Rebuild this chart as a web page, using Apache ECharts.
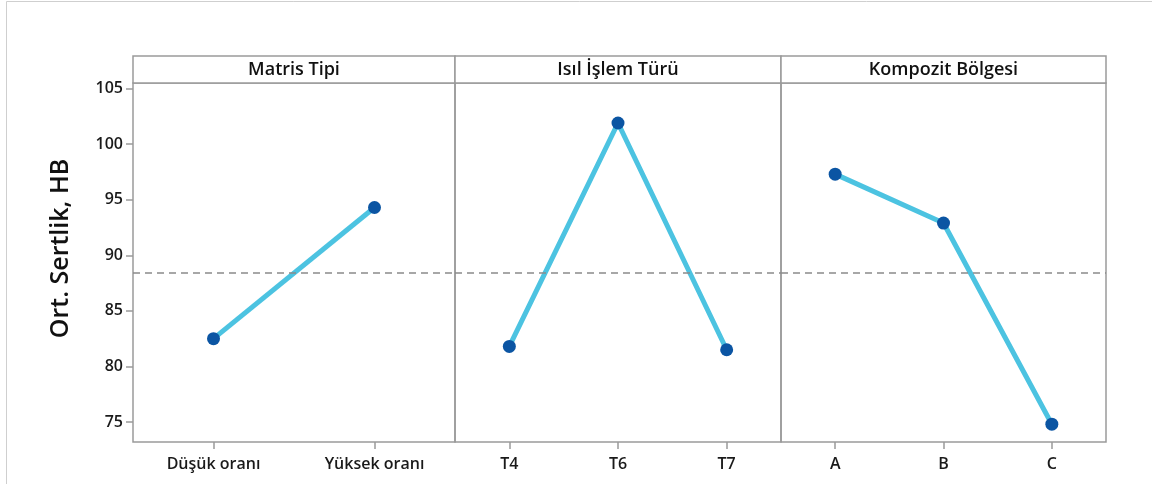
<!DOCTYPE html>
<html>
<head>
    <meta charset="utf-8">
    <title>Ana Etkiler</title>
    <style>
        html, body { margin: 0; padding: 0; background: #fff; }
        #main { width: 1152px; height: 484px; }
    </style>
</head>
<body>
<div id="main"></div>
<script src="https://cdn.jsdelivr.net/npm/echarts@6/dist/echarts.min.js"></script>
<script>
    // paneller ve kategoriler
    var panelTitles = ['Matris Tipi', 'Isıl İşlem Türü', 'Kompozit Bölgesi'];
    var matrisCats = ['Düşük oranı', 'Yüksek oranı'];
    var isilCats = ['T4', 'T6', 'T7'];
    var bolgeCats = ['A', 'B', 'C'];
    // ortalama sertlik degerleri (HB)
    var matrisVals = [82.5, 94.3];
    var isilVals = [81.8, 101.9, 81.5];
    var bolgeVals = [97.3, 92.9, 74.8];
    var grandMean = 88.4;
    var yTicks = [75, 80, 85, 90, 95, 100, 105];

    var font = '"Open Sans", "Noto Sans", sans-serif';
    var frameColor = '#9a9a9a';
    var cats = [matrisCats, isilCats, bolgeCats];
    var vals = [matrisVals, isilVals, bolgeVals];
    var lefts = [133, 455, 781];
    var widths = [322, 326, 325];

    var grids = [], xAxes = [], yAxes = [], series = [], graphics = [];

    // dis cerceve
    graphics.push({
        type: 'rect', shape: {x: 6.5, y: 1.5, width: 1200, height: 600},
        style: {fill: 'none', stroke: '#cfcfcf', lineWidth: 1}, silent: true
    });

    for (var i = 0; i < 3; i++) {
        grids.push({
            left: lefts[i], width: widths[i], top: 83, bottom: 42,
            show: true, borderColor: frameColor, borderWidth: 1.5, backgroundColor: 'transparent'
        });
        xAxes.push({
            type: 'category', gridIndex: i, data: cats[i], boundaryGap: true,
            axisLine: {show: false},
            axisTick: {show: true, alignWithLabel: true, length: 7, lineStyle: {color: frameColor, width: 1.5}},
            axisLabel: {fontFamily: font, fontSize: 16, fontWeight: 600, color: '#1a1a1a', margin: 14}
        });
        yAxes.push({
            type: 'value', gridIndex: i, min: 73.2, max: 105.5,
            splitLine: {show: false},
            axisLine: {show: false},
            axisTick: {show: i === 0, length: 7, customValues: yTicks, lineStyle: {color: frameColor, width: 1.5}},
            axisLabel: {show: i === 0, customValues: yTicks, fontFamily: font, fontSize: 16, fontWeight: 600,
                color: '#1a1a1a', margin: 10},
            name: i === 0 ? 'Ort. Sertlik, HB' : '',
            nameLocation: 'middle', nameGap: 60, nameRotate: 90,
            nameTextStyle: {fontFamily: font, fontSize: 25, color: '#111', fontWeight: 600, padding: [0, 0, 0, 28]}
        });
        series.push({
            type: 'line', xAxisIndex: i, yAxisIndex: i, data: vals[i],
            symbol: 'circle', symbolSize: 13,
            itemStyle: {color: '#0b55a3'},
            lineStyle: {color: '#4cc3e1', width: 5},
            markLine: {
                silent: true, symbol: 'none', label: {show: false},
                lineStyle: {color: '#8a8a8a', type: [7, 5], width: 1.5},
                data: [{yAxis: grandMean}]
            }
        });
        // panel basligi seridi
        graphics.push({
            type: 'rect', shape: {x: lefts[i], y: 56, width: widths[i], height: 27},
            style: {fill: '#fff', stroke: frameColor, lineWidth: 1.5}, silent: true
        });
        graphics.push({
            type: 'text', x: lefts[i] + widths[i] / 2, y: 70,
            style: {text: panelTitles[i], fontFamily: font, fontSize: 18, fontWeight: 600,
                fill: '#111', align: 'center', verticalAlign: 'middle'}
        });
    }

    var myChart = echarts.init(document.getElementById('main'));
    myChart.setOption({
        animation: false,
        backgroundColor: '#fff',
        grid: grids,
        xAxis: xAxes,
        yAxis: yAxes,
        series: series,
        graphic: graphics
    });
</script>
</body>
</html>
